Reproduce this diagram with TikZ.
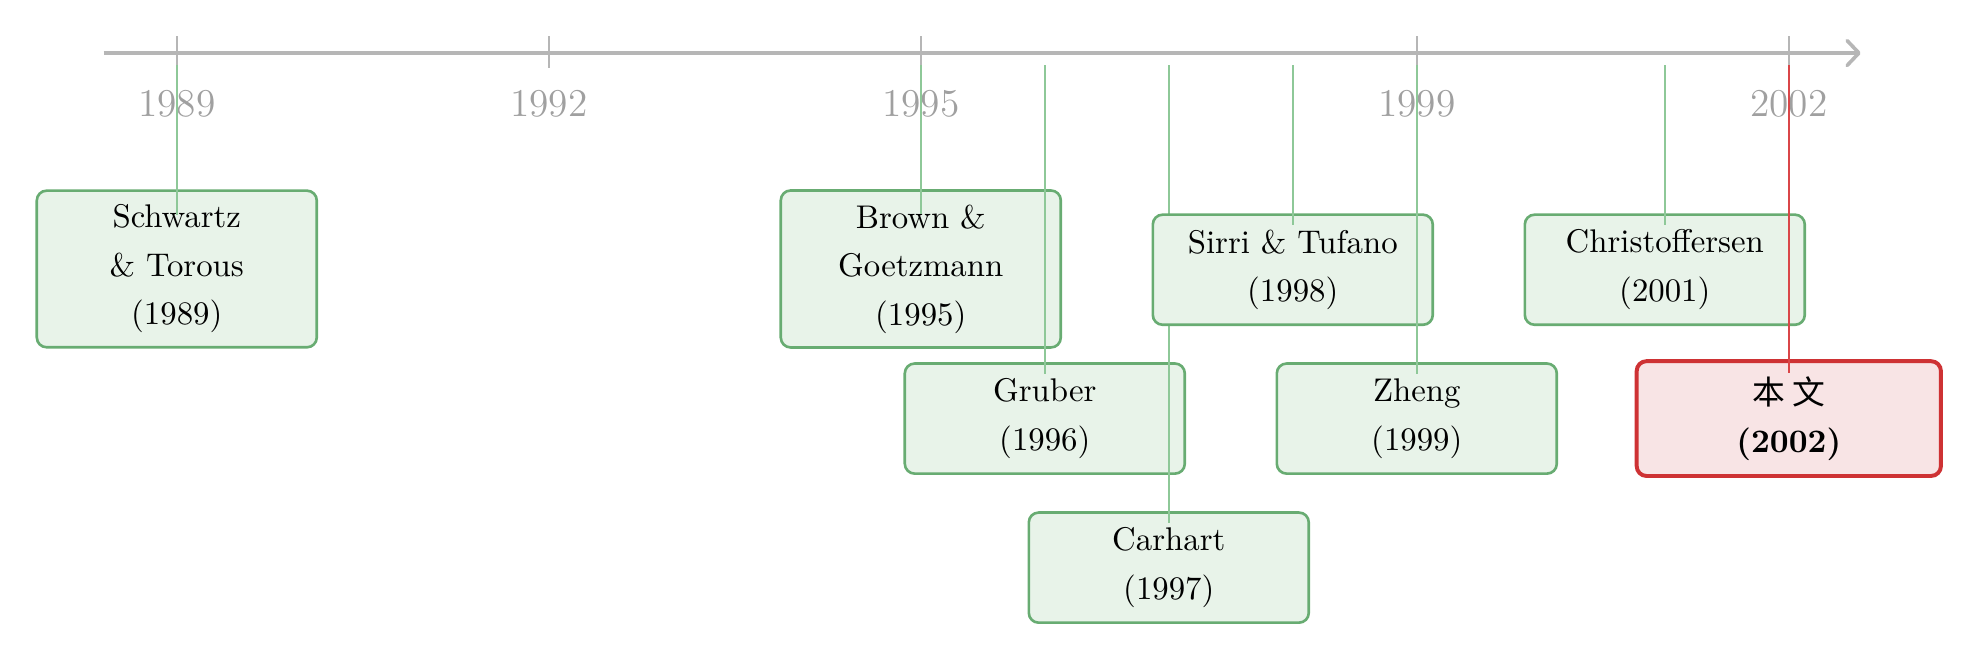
\documentclass[tikz,border=0pt]{standalone}
\usepackage{fontspec}
\newfontfamily\cjk{Noto Sans CJK SC}
\usepackage{xcolor}
\usepackage{tikz}
\usetikzlibrary{arrows.meta}
\definecolor{axisgray}{RGB}{182,182,182}
\definecolor{yeargray}{RGB}{160,160,160}
\definecolor{boxgreen}{RGB}{104,172,114}
\definecolor{fillgreen}{RGB}{232,243,233}
\definecolor{linegreen}{RGB}{142,200,152}
\definecolor{boxred}{RGB}{206,50,52}
\definecolor{fillred}{RGB}{248,228,229}
\definecolor{linered}{RGB}{218,70,72}

\begin{document}
\begin{tikzpicture}[x=1.3287cm,y=1cm,>={Straight Barb[length=3.6pt,width=7.6pt,round]},
  paper/.style={draw=boxgreen,fill=fillgreen,thick,rounded corners=3pt,align=center,
    minimum width=3cm,minimum height=1.18cm,inner sep=4.3pt,font=\fontsize{10}{14.8}\selectfont},
  ours/.style={paper,draw=boxred,fill=fillred,very thick,minimum width=3.26cm,minimum height=1.23cm},
  link/.style={linegreen,line width=0.45pt},
  ourlink/.style={linered,line width=0.55pt},
  tick/.style={axisgray,line width=0.45pt},
  yearlab/.style={text=yeargray,font=\large}]
\useasboundingbox (-1.4257,0) rectangle (14.542,-7.090);
% time axis
\coordinate (ax0) at (-0.59,-0.568);
\coordinate (ax1) at (13.58,-0.568);
\draw[axisgray,line width=1.1pt,->] (ax0) -- (ax1);
\draw[tick] (0,-0.39) -- (0,-0.73);
\draw[tick] (3,-0.39) -- (3,-0.73);
\draw[tick] (6,-0.39) -- (6,-0.73);
\draw[tick] (10,-0.39) -- (10,-0.73);
\draw[tick] (13,-0.39) -- (13,-0.73);
\node[yearlab] (y1989) at (0,-1.11) {1989};
\node[yearlab] (y1992) at (3,-1.11) {1992};
\node[yearlab] (y1995) at (6,-1.11) {1995};
\node[yearlab] (y1999) at (10,-1.11) {1999};
\node[yearlab] (y2002) at (13,-1.11) {2002};
% start points below the axis
\coordinate (s1989) at (0,-0.70);
\coordinate (s1995) at (6,-0.70);
\coordinate (s1996) at (7,-0.70);
\coordinate (s1997) at (8,-0.70);
\coordinate (s1998) at (9,-0.70);
\coordinate (s1999) at (10,-0.70);
\coordinate (s2001) at (12,-0.70);
\coordinate (s2002) at (13,-0.70);
% papers, each box followed by its line
\node[paper] (n1989) at (0,-2.882) {Schwartz\\\& Torous\\(1989)};
\draw[link] (s1989) -- ([yshift=-0.27cm]n1989.north);
\node[paper] (n1995) at (6,-2.882) {Brown \&\\Goetzmann\\(1995)};
\draw[link] (s1995) -- ([yshift=-0.27cm]n1995.north);
\node[paper] (n1996) at (7,-4.485) {Gruber\\(1996)};
\draw[link] (s1996) -- ([yshift=-0.13cm]n1996.north);
\node[paper] (n1997) at (8,-6.082) {Carhart\\(1997)};
\draw[link] (s1997) -- ([yshift=-0.13cm]n1997.north);
\node[paper] (n1998) at (9,-2.89) {Sirri \& Tufano\\(1998)};
\draw[link] (s1998) -- ([yshift=-0.13cm]n1998.north);
\node[paper] (n1999) at (10,-4.485) {Zheng\\(1999)};
\draw[link] (s1999) -- ([yshift=-0.13cm]n1999.north);
\node[paper] (n2001) at (12,-2.89) {Christoffersen\\(2001)};
\draw[link] (s2001) -- ([yshift=-0.13cm]n2001.north);
\node[ours] (n2002) at (13,-4.485) {{\cjk 本 文}\\\textbf{(2002)}};
\draw[ourlink] (s2002) -- ([yshift=-0.15cm]n2002.north);
\end{tikzpicture}
\end{document}
